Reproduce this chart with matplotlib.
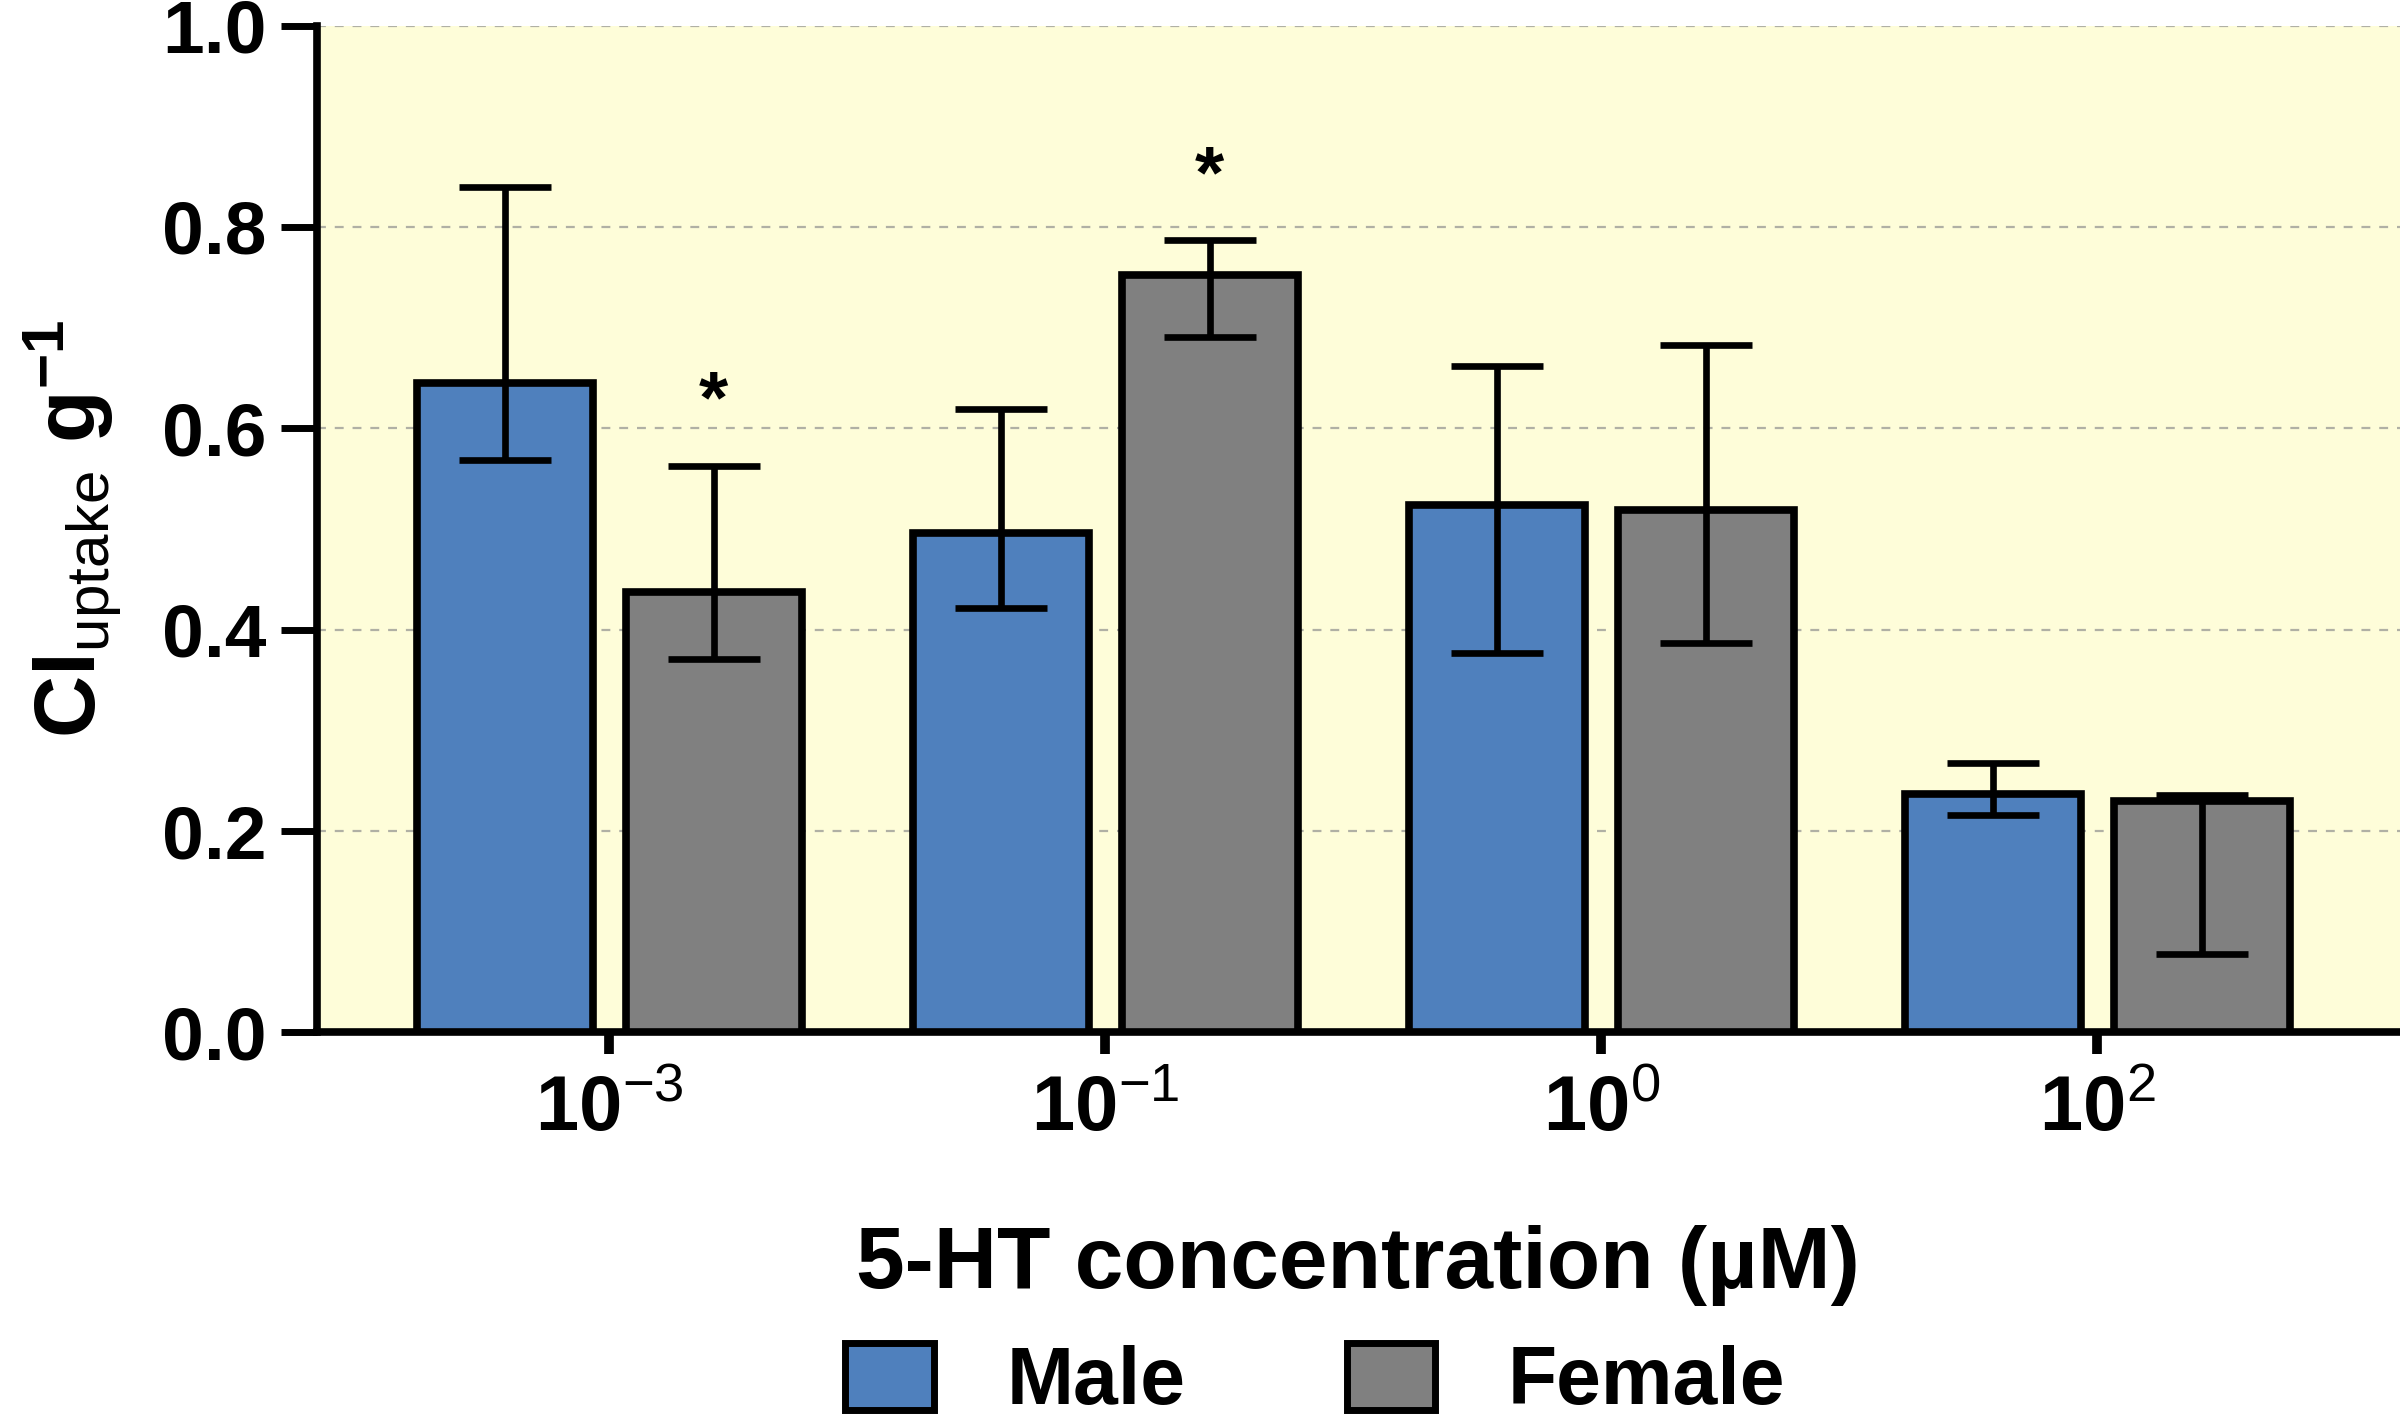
import matplotlib
matplotlib.use("Agg")
import matplotlib.pyplot as plt
import numpy as np
from matplotlib.patches import Patch

plt.rcParams['font.family'] = ['Liberation Sans', 'DejaVu Sans']
plt.rcParams['font.weight'] = 'bold'
plt.rcParams['axes.labelweight'] = 'bold'
plt.rcParams['mathtext.fontset'] = 'custom'
plt.rcParams['mathtext.rm'] = 'Liberation Sans:weight=normal'
plt.rcParams['mathtext.bf'] = 'Liberation Sans:weight=bold'
plt.rcParams['mathtext.it'] = 'Liberation Sans:weight=bold'
plt.rcParams['mathtext.default'] = 'regular'

categories = [r'$\mathbf{10}^{\mathrm{-3}}$', r'$\mathbf{10}^{\mathrm{-1}}$',
              r'$\mathbf{10}^{\mathrm{0}}$', r'$\mathbf{10}^{\mathrm{2}}$']
male = [0.645, 0.496, 0.524, 0.237]
male_upper = [0.840, 0.619, 0.662, 0.268]
male_lower = [0.569, 0.422, 0.377, 0.216]
female = [0.437, 0.752, 0.519, 0.230]
female_upper = [0.563, 0.787, 0.683, 0.236]
female_lower = [0.371, 0.691, 0.387, 0.078]
female_sig = [True, True, False, False]
yticks = [0.0, 0.2, 0.4, 0.6, 0.8, 1.0]

BLUE = '#4F80BD'
GRAY = '#808080'
BG = '#FEFDD9'

fig = plt.figure(figsize=(24, 14.22), dpi=100)
ax = fig.add_axes([0.132, 0.274, 0.868, 0.708])
ax.set_facecolor(BG)

x = np.arange(len(categories))
off = 0.21
w = 0.355
lw = 5.5

m_err = [np.array(male) - np.array(male_lower), np.array(male_upper) - np.array(male)]
f_err = [np.array(female) - np.array(female_lower), np.array(female_upper) - np.array(female)]

ax.bar(x - off, male, w, color=BLUE, edgecolor='black', linewidth=lw, zorder=3, label='Male')
ax.bar(x + off, female, w, color=GRAY, edgecolor='black', linewidth=lw, zorder=3, label='Female')
ax.errorbar(x - off, male, yerr=m_err, fmt='none', ecolor='black', elinewidth=4.8,
            capsize=33, capthick=4.8, zorder=4)
ax.errorbar(x + off, female, yerr=f_err, fmt='none', ecolor='black', elinewidth=4.8,
            capsize=33, capthick=4.8, zorder=4)

for xi, up, s in zip(x, female_upper, female_sig):
    if s:
        ax.text(xi + off, up + 0.062, '*', ha='center', va='center', fontsize=54,
                fontweight='bold', zorder=5)

ax.set_xlim(-0.59, 3.61)
ax.set_ylim(0, 1.0)
ax.set_yticks(yticks)
ax.set_yticklabels([f'{v:.1f}' for v in yticks])
ax.set_xticks(x)
ax.set_xticklabels(categories)

ax.yaxis.grid(True, linestyle=(0, (4, 4)), color='#b0b0a4', linewidth=1.6, zorder=0)
ax.set_axisbelow(True)

for s in ['top', 'right']:
    ax.spines[s].set_visible(False)
for s in ['left', 'bottom']:
    ax.spines[s].set_linewidth(5.5)

ax.tick_params(axis='y', which='major', length=26, width=5, direction='out',
               labelsize=54, pad=10)
ax.tick_params(axis='x', which='major', length=16, width=7, direction='out',
               labelsize=56, pad=14)

ax.set_xlabel('5-HT concentration (µM)', fontsize=63, fontweight='bold', labelpad=56)
ax.set_ylabel(r'$\mathbf{Cl}_{\mathrm{uptake}}\ \mathbf{g}^{\mathbf{-1}}$', fontsize=62,
              labelpad=28)

handles = [Patch(facecolor=BLUE, edgecolor='black', linewidth=5, label='Male'),
           Patch(facecolor=GRAY, edgecolor='black', linewidth=5, label='Female')]
fig.legend(handles=handles, loc='center', bbox_to_anchor=(0.548, 0.028), ncol=2,
           frameon=False, fontsize=58, handlelength=1.1, handleheight=0.9,
           columnspacing=2.0, handletextpad=0.9)

fig.savefig('out.png', dpi=100)
